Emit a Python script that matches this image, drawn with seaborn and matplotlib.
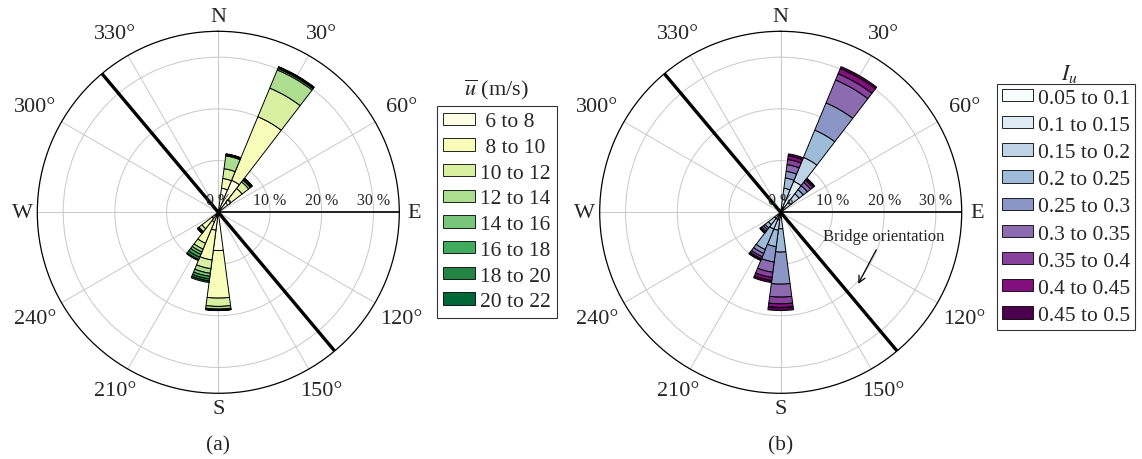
"""
Wind roses: mean wind speed (a) and turbulence intensity (b) per direction.
"""

import numpy as np
import matplotlib
matplotlib.use("Agg")
import matplotlib.pyplot as plt
from matplotlib.patches import Patch
import seaborn as sns

# ── Data ───────────────────────────────────────────────────────────────────
DIRECTIONS = [15, 30, 45, 180, 195, 210, 225]      # sector centre (deg)
SECTOR_WIDTH = 15

SPEED_BINS = [" 6 to 8", " 8 to 10", "10 to 12", "12 to 14",
              "14 to 16", "16 to 18", "18 to 20", "20 to 22"]
# frequency (%) per direction (rows) and speed bin (columns)
SPEED_FREQ = [
    [4.7, 1.9, 1.9, 2.5, 0.2, 0.1, 0.05, 0.05],
    [6.7, 13.3, 6.0, 3.8, 0.3, 0.2, 0.1, 0.1],
    [3.0, 2.8, 1.6, 0.4, 0.2, 0.15, 0.1, 0.05],
    [7.4, 9.2, 1.6, 0.5, 0.15, 0.05, 0.05, 0.05],
    [3.5, 5.8, 1.7, 0.9, 0.6, 0.5, 0.4, 0.3],
    [2.0, 4.5, 1.2, 0.6, 0.5, 0.6, 0.5, 0.2],
    [1.5, 2.5, 0.7, 0.2, 0.1, 0.05, 0.03, 0.02],
]

TI_BINS = ["0.05 to 0.1", "0.1 to 0.15", "0.15 to 0.2", "0.2 to 0.25",
           "0.25 to 0.3", "0.3 to 0.35", "0.35 to 0.4", "0.4 to 0.45",
           "0.45 to 0.5"]
TI_FREQ = [
    [0.5, 2.0, 2.2, 2.0, 1.3, 1.3, 1.0, 0.7, 0.4],
    [1.0, 5.5, 5.0, 5.7, 5.7, 4.8, 1.3, 1.1, 0.4],
    [0.5, 2.0, 2.0, 1.0, 1.0, 0.8, 0.5, 0.3, 0.2],
    [0.3, 0.7, 2.2, 4.5, 6.2, 2.5, 1.3, 0.7, 0.6],
    [0.3, 1.2, 2.0, 3.2, 3.0, 2.0, 1.0, 0.6, 0.4],
    [0.3, 1.2, 2.0, 4.3, 0.8, 0.7, 0.4, 0.25, 0.15],
    [0.2, 1.3, 1.5, 0.8, 0.4, 0.4, 0.3, 0.1, 0.1],
]

BRIDGE_DIR = 140          # bridge axis bearing (deg)
R_MAX = 35
R_TICKS = [0, 10, 20, 30]
ANGLE_LABELS = ["N", "30°", "60°", "E", "120°", "150°",
                "S", "210°", "240°", "W", "300°", "330°"]

# ── Style ──────────────────────────────────────────────────────────────────
YLGN = sns.color_palette(["#ffffe5", "#f7fcb9", "#d9f0a3", "#addd8e",
                          "#78c679", "#41ab5d", "#238443", "#006837"])
BUPU = sns.color_palette(["#f7fcfd", "#e0ecf4", "#bfd3e6", "#9ebcda",
                          "#8c96c6", "#8c6bb1", "#88419d", "#810f7c",
                          "#4d004b"])

sns.set_theme(style="white")
plt.rcParams["font.family"] = ["Liberation Serif", "DejaVu Serif"]
plt.rcParams["mathtext.fontset"] = "stix"

W, H = 1142, 460
RADIUS = 181


def draw_rose(ax, freq, colors):
    freq = np.asarray(freq)
    theta = np.deg2rad(DIRECTIONS)
    bottom = np.zeros(len(DIRECTIONS))
    for k, col in enumerate(colors):
        ax.bar(theta, freq[:, k], width=np.deg2rad(SECTOR_WIDTH), bottom=bottom,
               color=col, edgecolor="black", linewidth=0.7, zorder=3)
        bottom += freq[:, k]

    ax.set_theta_zero_location("N")
    ax.set_theta_direction(-1)
    ax.set_ylim(0, R_MAX)
    ax.set_yticks(R_TICKS[1:])
    ax.set_yticklabels([])
    ax.set_xticks(np.deg2rad(np.arange(0, 360, 30)))
    ax.set_xticklabels([])
    ax.grid(True, color="#c8c8c8", linewidth=0.7)
    ax.spines["polar"].set_linewidth(0.9)
    ax.spines["polar"].set_color("black")
    ax.set_facecolor("white")

    # radial axis line towards E and its labels
    ax.plot([np.pi / 2, np.pi / 2], [0, R_MAX], color="#222222", lw=1.4, zorder=2)
    for r in R_TICKS:
        ax.annotate(f"{r} %", xy=(np.pi / 2, r), xytext=(0, 3),
                    textcoords="offset points", ha="center", va="bottom",
                    fontsize=11.5, zorder=5)

    # bridge orientation
    b = np.deg2rad([BRIDGE_DIR, BRIDGE_DIR, BRIDGE_DIR + 180, BRIDGE_DIR + 180])
    ax.plot(b, [R_MAX, 0, 0, R_MAX], color="black", lw=2.4, zorder=4,
            solid_capstyle="butt")

    # compass labels
    for ang, lab in zip(range(0, 360, 30), ANGLE_LABELS):
        if lab.endswith("°"):
            rpx = 198 + 16 * abs(np.sin(np.deg2rad(ang)))
        else:
            rpx = 196
        ax.text(np.deg2rad(ang), R_MAX * rpx / RADIUS, lab, ha="center",
                va="center", fontsize=16, clip_on=False)


fig = plt.figure(figsize=(W / 100, H / 100), dpi=100)
for cx, freq, colors, tag in [(218.3, SPEED_FREQ, YLGN, "(a)"),
                              (780.7, TI_FREQ, BUPU, "(b)")]:
    cy = 213.3
    ax = fig.add_axes([(cx - RADIUS) / W, (H - cy - RADIUS) / H,
                       2 * RADIUS / W, 2 * RADIUS / H], projection="polar")
    draw_rose(ax, freq, colors)
    fig.text(cx / W, 1 - 446 / H, tag, ha="center", va="center", fontsize=15.5)
    if tag == "(b)":
        ax.annotate("Bridge orientation", xy=(np.deg2rad(132.7), 20.4),
                    xytext=(np.deg2rad(103), 20.4), ha="center", va="center",
                    fontsize=12, zorder=6,
                    arrowprops=dict(arrowstyle="->", color="black", lw=0.9,
                                    shrinkA=2, shrinkB=0))


# ── Legends ────────────────────────────────────────────────────────────────
def add_legend(labels, colors, left, top, title, title_xy, spacing, pad):
    handles = [Patch(facecolor=c, edgecolor="black", linewidth=0.6) for c in colors]
    leg = fig.legend(handles, labels, loc="upper left",
                     bbox_to_anchor=(left / W, 1 - top / H), fontsize=15.5,
                     frameon=True, fancybox=False, edgecolor="black",
                     handlelength=1.45, handleheight=0.5, labelspacing=spacing,
                     handletextpad=0.25, borderpad=pad, borderaxespad=0)
    leg.get_frame().set_linewidth(0.8)
    fig.text(title_xy[0] / W, 1 - title_xy[1] / H, title, ha="center",
             va="center", fontsize=16)


add_legend(SPEED_BINS, YLGN, 437, 107, r"$\overline{u}$ (m/s)", (496, 90), 0.31, 0.3)
add_legend(TI_BINS, BUPU, 997, 85, r"$I_u$", (1069, 74), 0.38, 0.22)

fig.savefig("out.png", dpi=100)
